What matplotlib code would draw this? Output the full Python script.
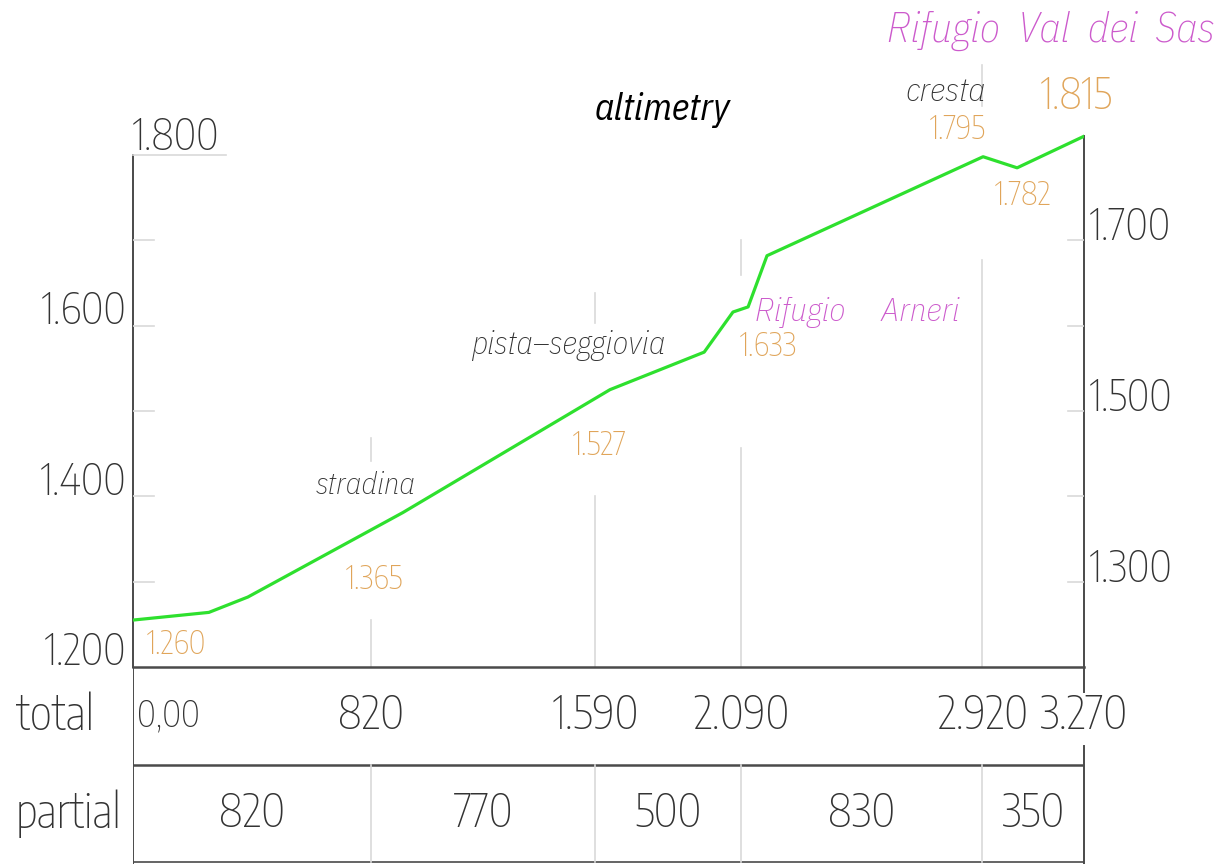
import numpy as np
import matplotlib
matplotlib.use("Agg")
import matplotlib.pyplot as plt

# profile (distance m, elevation m a.s.l.)
dist = [0, 261, 395, 928, 1640, 1964, 2063, 2115, 2180, 2923, 3040, 3270]
elev = [1255, 1264, 1282, 1381, 1525, 1569, 1616, 1622, 1682, 1798, 1785, 1822]

totals = [0, 820, 1590, 2090, 2920, 3270]
partials = [820, 770, 500, 830, 350]

left_labels = [1200, 1400, 1600]
right_labels = [1300, 1500, 1700]
ticks = [1300, 1400, 1500, 1600, 1700]

# spot heights written along the line
spot_vals = ["1.260", "1.365", "1.527", "1.633", "1.795", "1.782", "1.815"]

GREEN = "#2ee02e"
ORANGE = "#e0a55a"
MAGENTA = "#cc5acc"
AX = "#4a4a4a"
LIGHT = "#d9d9d9"
TXT = "#333333"

# thin narrow faces to get close to the CAD lettering
NUM = ["Encode Sans Condensed", "DejaVu Sans"]
ITAL = ["IBM Plex Sans Condensed", "DejaVu Sans"]

fig = plt.figure(figsize=(12.25, 8.64), dpi=100)
W, H = 1225, 864
ax = fig.add_axes([133 / W, (H - 667) / H, (1084 - 133) / W, 667 / H])
ax.set_xlim(0, 3270)
ax.set_ylim(1200, 1200 + 667 / 0.8533)
ax.axis("off")

tab = fig.add_axes([133 / W, 0, (1084 - 133) / W, (H - 667) / H])
tab.set_xlim(0, 3270)
tab.set_ylim(-0.02, 2.0)
tab.axis("off")

# profile line
ax.plot(dist, elev, color=GREEN, lw=2.3, zorder=5)

# axes frame
ax.plot([0, 0], [1200, 1800], color=AX, lw=1.4, clip_on=False)
ax.plot([0, 320], [1800, 1800], color=LIGHT, lw=1.2, clip_on=False)
ax.plot([3270, 3270], [1200, elev[-1]], color=AX, lw=1.4, clip_on=False)
for t in ticks:
    ax.plot([0, 72], [t, t], color=LIGHT, lw=1.2)
    ax.plot([3215, 3270], [t, t], color=LIGHT, lw=1.2)

# vertical guide lines (broken where the labels sit)
gaps = {820: [(1200, 1255), (1442, 1468)],
        1590: [(1200, 1400), (1603, 1638)],
        2090: [(1200, 1457), (1659, 1700)],
        2920: [(1200, 1677), (1857, 1905)]}
for x, segs in gaps.items():
    for y0, y1 in segs:
        ax.plot([x, x], [y0, y1], color=LIGHT, lw=1.2, clip_on=False)

# axis numbers
for v in left_labels:
    ax.text(-24, v + 2, f"{v/1000:.3f}", ha="right", va="baseline",
            fontsize=31, family=NUM, weight="light", color=TXT)
ax.text(-3, 1806, "1.800", ha="left", va="baseline", fontsize=31,
        family=NUM, weight="light", color=TXT)
for v in right_labels:
    ax.text(3290, v, f"{v/1000:.3f}", ha="left", va="baseline",
            fontsize=31, family=NUM, weight="light", color=TXT)

# titles and place names
ax.text(1819, 1853, "altimetry", ha="center", va="center", fontsize=27,
        style="italic", family=ITAL, color="black")
ax.text(3721, 1946, "Rifugio  Val  dei  Sas", ha="right", va="center",
        fontsize=30, style="italic", weight="light", family=ITAL,
        color=MAGENTA)
ax.text(2139, 1616, "Rifugio     Arneri", ha="left", va="center",
        fontsize=24, style="italic", weight="light", family=ITAL,
        color=MAGENTA)
ax.text(2933, 1873, "cresta", ha="right", va="center", fontsize=24,
        style="italic", weight="light", family=ITAL, color=TXT)
ax.text(1829, 1577, "pista–seggiovia", ha="right", va="center",
        fontsize=23, style="italic", weight="light", family=ITAL, color=TXT)
ax.text(629, 1413, "stradina", ha="left", va="center", fontsize=22,
        style="italic", weight="light", family=ITAL, color=TXT)

# spot heights
spot_pos = [(48, 1227, "left", 23), (732, 1303, "left", 23),
            (1510, 1460, "left", 23), (2087, 1576, "left", 23),
            (2933, 1830, "right", 23), (3060, 1753, "center", 23),
            (3243, 1869, "center", 31)]
for (x, y, ha, fs), s in zip(spot_pos, spot_vals):
    ax.text(x, y, s, ha=ha, va="center", fontsize=fs, family=NUM,
            weight="light", color=ORANGE)

# distance table
tab.plot([0, 3270], [2, 2], color=AX, lw=1.8, clip_on=False)
tab.plot([0, 3270], [1, 1], color=AX, lw=1.8)
tab.plot([0, 3270], [0, 0], color=AX, lw=1.2)
tab.plot([0, 0], [-0.02, 2], color=AX, lw=1.4)
tab.plot([3270, 3270], [1.74, 2], color=AX, lw=1.4, clip_on=False)
tab.plot([3270, 3270], [-0.02, 1.19], color=AX, lw=1.4, clip_on=False)
for x in totals[1:-1]:
    tab.plot([x, x], [0, 1], color=LIGHT, lw=1.2)

tab.text(-402, 1.5, "total", ha="left", va="center", fontsize=34,
         family=NUM, weight="light", color=TXT)
tab.text(-402, 0.5, "partial", ha="left", va="center", fontsize=34,
         family=NUM, weight="light", color=TXT)


def fmt(v):
    return "0,00" if v == 0 else f"{v:,}".replace(",", ".")


for v in totals:
    if v == 0:
        tab.text(14, 1.5, fmt(v), ha="left", va="center", fontsize=26,
                 family=NUM, weight="light", color=TXT)
    else:
        tab.text(v, 1.5, fmt(v), ha="center", va="center", fontsize=33,
                 family=NUM, weight="light", color=TXT)
mids = np.array(totals[:-1]) + np.array(partials) / 2
for m, p in zip(mids, partials):
    tab.text(m, 0.5, fmt(p), ha="center", va="center", fontsize=33,
             family=NUM, weight="light", color=TXT)

fig.savefig("out.png", dpi=100, facecolor="white")
